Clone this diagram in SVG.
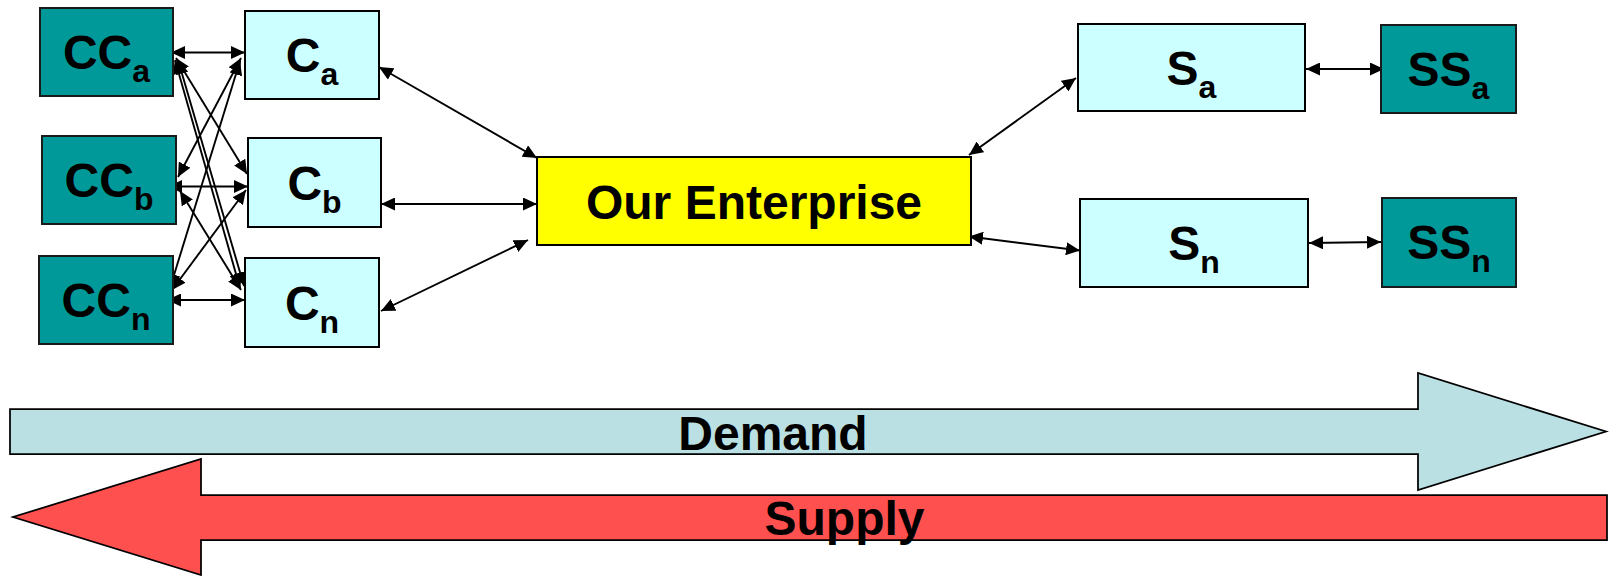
<svg xmlns="http://www.w3.org/2000/svg" width="1612" height="576" viewBox="0 0 1612 576">
  <defs>
    <style>
      .lbl { font-family: "Liberation Sans", Arial, sans-serif; font-weight: bold; font-size: 48px; fill: #000; text-anchor: middle; }
      .sub { font-size: 32px; }
      .cc { fill: #009999; stroke: #1a1a1a; stroke-width: 2; }
      .c { fill: #ccffff; stroke: #000; stroke-width: 2; }
      .ent { fill: #ffff00; stroke: #000; stroke-width: 2; }
      .link { stroke: #000; stroke-width: 1.9; fill: none; marker-start: url(#head); marker-end: url(#head); }
      .flow { stroke: #000; stroke-width: 1.75; }
    </style>
    <marker id="head" viewBox="0 0 14 13" refX="14" refY="6.5" markerWidth="14" markerHeight="13" markerUnits="userSpaceOnUse" orient="auto-start-reverse">
      <path d="M0,0 L14,6.5 L0,13 z" fill="#000"/>
    </marker>
  </defs>

  <rect width="1612" height="576" fill="#fff"/>

  <!-- connectors -->
  <g id="connectors">
    <!-- customers' customers to customers -->
    <line class="link" x1="171" y1="52.5" x2="245" y2="52.5"/>
    <line class="link" x1="168" y1="186.5" x2="248" y2="186.5"/>
    <line class="link" x1="167" y1="300" x2="245" y2="300"/>
    <line class="link" x1="176" y1="58" x2="247" y2="174"/>
    <line class="link" x1="175" y1="60" x2="240" y2="288"/>
    <line class="link" x1="178" y1="60" x2="244" y2="286"/>
    <line class="link" x1="241" y1="58" x2="178" y2="177"/>
    <line class="link" x1="180" y1="191" x2="241" y2="290"/>
    <line class="link" x1="240" y1="61" x2="170" y2="288"/>
    <line class="link" x1="246" y1="190" x2="172" y2="290"/>
    <!-- customers to enterprise -->
    <line class="link" x1="379" y1="67" x2="537" y2="158"/>
    <line class="link" x1="381" y1="204" x2="537" y2="204"/>
    <line class="link" x1="381" y1="311" x2="528" y2="240"/>
    <!-- enterprise to suppliers -->
    <line class="link" x1="969" y1="155" x2="1076" y2="78"/>
    <line class="link" x1="969" y1="236.5" x2="1080" y2="250.5"/>
    <!-- suppliers to suppliers' suppliers -->
    <line class="link" x1="1306" y1="69" x2="1384" y2="69"/>
    <line class="link" x1="1309" y1="243" x2="1381" y2="242"/>
  </g>

  <!-- customers' customers -->
  <g id="node-cc-a">
    <rect class="cc" x="40" y="8" width="133" height="88"/>
    <text class="lbl" x="106.5" y="69">CC<tspan class="sub" dy="13">a</tspan></text>
  </g>
  <g id="node-cc-b">
    <rect class="cc" x="42" y="136" width="134" height="88"/>
    <text class="lbl" x="109" y="197">CC<tspan class="sub" dy="13">b</tspan></text>
  </g>
  <g id="node-cc-n">
    <rect class="cc" x="39" y="256" width="134" height="88"/>
    <text class="lbl" x="106" y="317">CC<tspan class="sub" dy="13">n</tspan></text>
  </g>

  <!-- customers -->
  <g id="node-c-a">
    <rect class="c" x="245" y="11" width="134" height="88"/>
    <text class="lbl" x="312" y="72">C<tspan class="sub" dy="13">a</tspan></text>
  </g>
  <g id="node-c-b">
    <rect class="c" x="248" y="138" width="133" height="89"/>
    <text class="lbl" x="314.5" y="199.5">C<tspan class="sub" dy="13">b</tspan></text>
  </g>
  <g id="node-c-n">
    <rect class="c" x="245" y="258" width="134" height="89"/>
    <text class="lbl" x="312" y="319.5">C<tspan class="sub" dy="13">n</tspan></text>
  </g>

  <!-- focal company -->
  <g id="node-enterprise">
    <rect class="ent" x="537" y="157" width="434" height="88"/>
    <text class="lbl" x="754" y="219">Our Enterprise</text>
  </g>

  <!-- suppliers -->
  <g id="node-s-a">
    <rect class="c" x="1078" y="24" width="227" height="87"/>
    <text class="lbl" x="1191.5" y="85">S<tspan class="sub" dy="13">a</tspan></text>
  </g>
  <g id="node-s-n">
    <rect class="c" x="1080" y="199" width="228" height="88"/>
    <text class="lbl" x="1194" y="260">S<tspan class="sub" dy="13">n</tspan></text>
  </g>

  <!-- suppliers' suppliers -->
  <g id="node-ss-a">
    <rect class="cc" x="1381" y="25" width="135" height="88"/>
    <text class="lbl" x="1448.5" y="86">SS<tspan class="sub" dy="13">a</tspan></text>
  </g>
  <g id="node-ss-n">
    <rect class="cc" x="1382" y="198" width="134" height="89"/>
    <text class="lbl" x="1449" y="259">SS<tspan class="sub" dy="13">n</tspan></text>
  </g>

  <!-- demand flows downstream -->
  <g id="demand-arrow">
    <polygon class="flow" fill="#bbe0e3" points="10,409 1418,409 1418,373 1606,431.5 1418,490 1418,454 10,454"/>
    <text class="lbl" x="773" y="450">Demand</text>
  </g>

  <!-- supply flows upstream -->
  <g id="supply-arrow">
    <polygon class="flow" fill="#ff5050" points="1607,495 201,495 201,459 13,517 201,575 201,540 1607,540"/>
    <text class="lbl" x="844.5" y="535">Supply</text>
  </g>
</svg>
